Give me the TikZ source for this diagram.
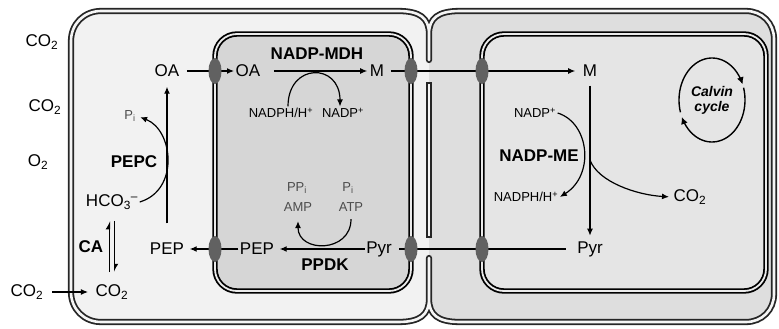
\documentclass[tikz,border=0pt]{standalone}
\usepackage{fontspec}
\setmainfont{Liberation Sans}
\usetikzlibrary{arrows.meta,shapes.geometric,calc}

\tikzset{
  lbl/.style={font=\fontsize{17}{19}\selectfont, inner sep=1.5pt},
  enz/.style={font=\fontsize{17}{19}\selectfont\bfseries, inner sep=1pt},
  cof/.style={font=\fontsize{13}{15}\selectfont, inner sep=1.5pt},
  cofg/.style={cof, text=black!70},
  wall/.style={draw=black!85, line width=1.8pt, double=black!4, double distance=2.6pt, line join=round},
  cpwall/.style={draw=black, line width=1.8pt, double=black!8, double distance=1.8pt},
  porter/.style={ellipse, fill=black!62, minimum width=13pt, minimum height=26pt, inner sep=0pt},
  flow/.style={line width=1.2pt, -{Latex[length=7pt,width=6pt]}},
  link/.style={line width=1.2pt},
  harp/.style={line width=1pt, -{Latex[left,length=7pt,width=8pt]}},
  cyc/.style={line width=1.4pt, -{Latex[length=7pt,width=7pt]}},
}

\begin{document}
\begin{tikzpicture}[x=1pt, y=-1pt]
\useasboundingbox (0,0) rectangle (779,329);

% cells
\fill[black!5, rounded corners=30pt] (71,11) rectangle (429,322);
\fill[black!13, rounded corners=28pt] (429,11) rectangle (774,322);
\draw[wall] (429,60) -- (429,34) .. controls (429,18) and (438,11) .. (460,11)
  -- (746,11) .. controls (762,11) and (774,23) .. (774,39)
  -- (774,294) .. controls (774,310) and (762,322) .. (746,322)
  -- (460,322) .. controls (438,322) and (429,315) .. (429,299)
  -- (429,258) -- (429,299) .. controls (429,315) and (420,322) .. (398,322)
  -- (101,322) .. controls (84,322) and (71,309) .. (71,292)
  -- (71,41) .. controls (71,24) and (84,11) .. (101,11)
  -- (398,11) .. controls (420,11) and (429,18) .. (429,34) -- cycle;
\draw[wall, line cap=rect] (429,85) -- (429,235);

% chloroplasts
\draw[cpwall, fill=black!16, rounded corners=22pt] (215,34) rectangle (411,291);
\draw[cpwall, fill=black!10, rounded corners=22pt] (482,34) rectangle (766,291);

% outside
\node[lbl] (co2a) at (42,42) {CO\textsubscript{2}};
\node[lbl] (co2b) at (45,107) {CO\textsubscript{2}};
\node[lbl] (o2) at (38,162) {O\textsubscript{2}};
\node[lbl] (co2out) at (27,292) {CO\textsubscript{2}};

% mesophyll cytosol
\node[lbl] (co2in) at (112,292) {CO\textsubscript{2}};
\node[lbl] (hco) at (112,202) {HCO\textsubscript{3}\textsuperscript{--}};
\node[enz] (ca) at (91,247) {CA};
\node[lbl] (pepm) at (167,249) {PEP};
\node[lbl] (oam) at (167,71) {OA};
\node[cofg] (pim) at (130,116) {P\textsubscript{i}};
\node[enz] (pepcase) at (134,162) {PEPC};

% mesophyll chloroplast
\node[lbl] (oac) at (248,71) {OA};
\node[lbl] (mc) at (377,71) {M};
\node[enz] (mdh) at (317,54) {NADP-MDH};
\node[cof] (nadphm) at (281,113) {NADPH/H\textsuperscript{+}};
\node[cof] (nadpm) at (343,113) {NADP\textsuperscript{+}};
\node[lbl] (pepch) at (257,249) {PEP};
\node[lbl] (pyrm) at (379,249) {Pyr};
\node[enz] (ppdk) at (325,265) {PPDK};
\node[cofg] (ppi) at (297,188) {PP\textsubscript{i}};
\node[cofg] (amp) at (298,207) {AMP};
\node[cofg] (pic) at (348,188) {P\textsubscript{i}};
\node[cofg] (atp) at (351,207) {ATP};

% bundle sheath
\node[lbl] (mb) at (590,71) {M};
\node[lbl] (pyrb) at (590,249) {Pyr};
\node[enz] (me) at (539,156) {NADP-ME};
\node[cof] (nadpb) at (535,113) {NADP\textsuperscript{+}};
\node[cof] (nadphb) at (526,197) {NADPH/H\textsuperscript{+}};
\node[lbl] (co2bs) at (690,197) {CO\textsubscript{2}};
\node[font=\fontsize{14}{15}\selectfont\bfseries\itshape, align=center, inner sep=0pt] (calvin) at (712,100) {Calvin\\cycle};
\coordinate (mebr) at (590,160);

% fluxes
\draw[flow, shorten <=7pt, shorten >=6pt] (co2out) -- (co2in);
\draw[harp, shorten <=11pt, shorten >=10pt] ([xshift=-2.5pt]co2in.north) -- ([xshift=-2.5pt]hco.south);
\draw[harp, shorten <=10pt, shorten >=11pt] ([xshift=2.5pt]hco.south) -- ([xshift=2.5pt]co2in.north);
\draw[flow, shorten >=3pt] (hco.east) .. controls +(40,-12) and +(36,14) .. (pim.east);
\draw[flow, shorten <=18pt, shorten >=8pt] (pepm) -- (oam);
\draw[flow, shorten <=6pt] (oam) -- (oac);
\draw[flow, shorten <=12pt, shorten >=1pt] (oac) -- (mc);
\draw[flow, shorten <=5pt, shorten >=6pt] (mc) -- (mb);
\draw[flow, shorten <=7pt, shorten >=4pt] (mb) -- (mb |- pyrb.north);
\draw[link, shorten <=10pt, shorten >=6pt] (pyrb) -- (pyrm);
\draw[flow, shorten >=4pt] (pyrm) -- (pepch);
\draw[flow, shorten >=4pt] (pepch) -- (pepm);
\draw[flow] ([xshift=7pt]nadphm.north) .. controls +(0,-44) and +(0,-44) .. ([xshift=-3pt]nadpm.north);
\draw[flow, shorten <=6pt, shorten >=8pt] (atp.south) .. controls +(0,40) and +(0,40) .. (amp.south);
\draw[flow] (nadpb.east) .. controls +(32,10) and +(35,-22) .. (nadphb.east);
\draw[flow, shorten >=3pt] (mebr) .. controls +(8,22) and +(-35,-2) .. (co2bs.west);
% Calvin cycle ring
\draw[cyc] plot[smooth, domain=163:338, samples=36] ({712+33*cos(\x)}, {100+42*sin(\x)});
\draw[cyc] plot[smooth, domain=-17:156, samples=36] ({712+33*cos(\x)}, {100+42*sin(\x)});

% transporters
\node[porter] (tma) at (215,71) {};
\node[porter] (tmb) at (411,71) {};
\node[porter] (tmc) at (482,71) {};
\node[porter] (tpa) at (215,249) {};
\node[porter] (tpb) at (411,249) {};
\node[porter] (tpc) at (482,249) {};

\end{tikzpicture}
\end{document}
